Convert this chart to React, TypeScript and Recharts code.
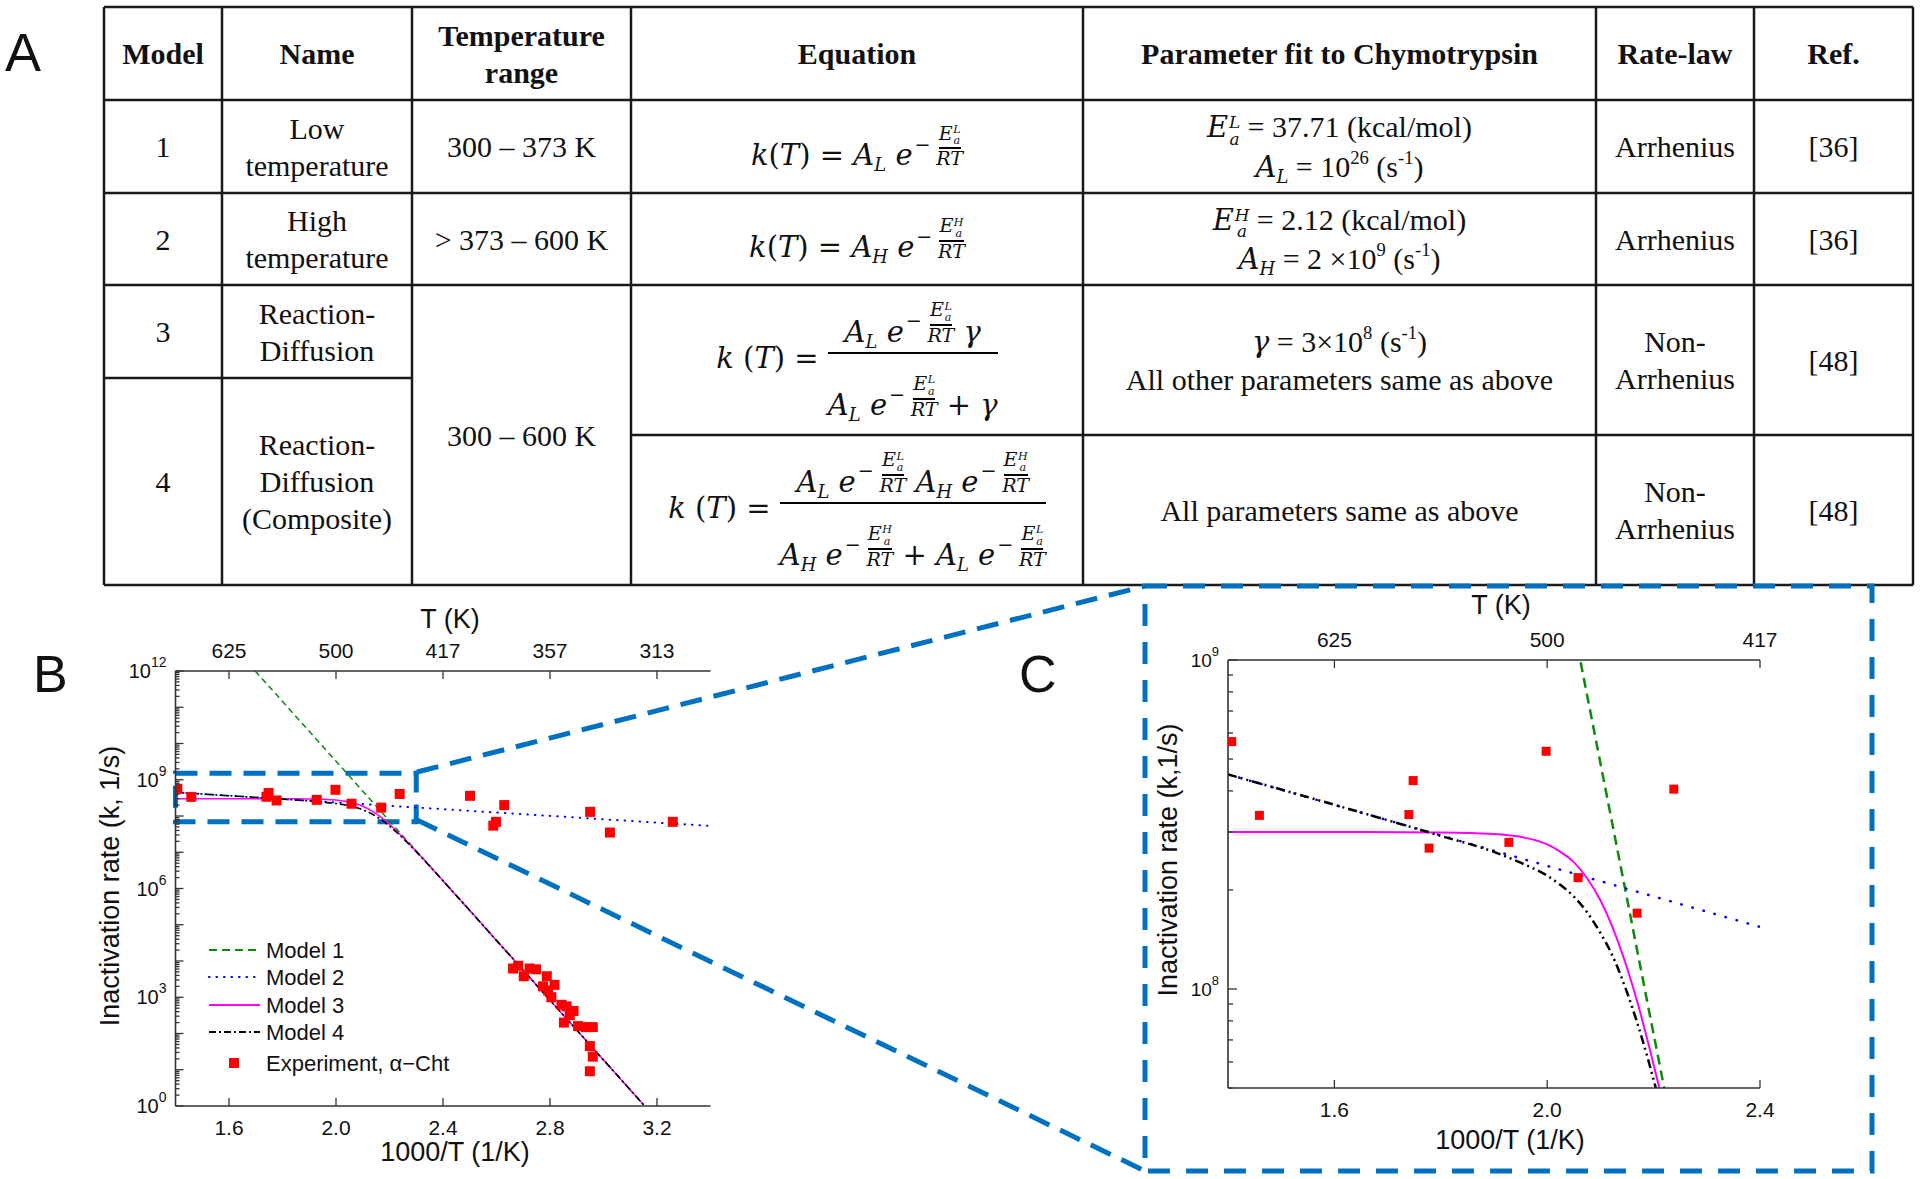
import React from 'react';
import { ComposedChart, Line, Scatter, XAxis, YAxis, ReferenceArea } from 'recharts';

// ---- chart data (x = 1000/T in 1/K, k in 1/s) ----
const model1X = [1.698, 3.15];
const model1K = [1e12, 1.08];
const model2X = [1.4, 3.4];
const model2K = [4.49e8, 5.31e7];
const curveX = [1.4, 1.6, 1.8, 1.9, 1.95, 2.0, 2.025, 2.05, 2.075, 2.1, 2.12, 2.15, 2.17, 2.19, 2.2, 2.21, 2.25, 2.3, 2.4, 2.6, 2.8, 3.0, 3.15];
const model3K = [3.0e8, 3.0e8, 2.99e8, 2.96e8, 2.9e8, 2.75e8, 2.61e8, 2.43e8, 2.17e8, 1.86e8, 1.58e8, 1.16e8, 9.06e7, 6.84e7, 5.89e7, 5.05e7, 2.59e7, 1.06e7, 1.64e6, 3.7e4, 832, 18.7, 1.08];
const model4K = [4.49e8, 3.63e8, 2.92e8, 2.61e8, 2.42e8, 2.21e8, 2.07e8, 1.91e8, 1.71e8, 1.48e8, 1.29e8, 9.77e7, 7.82e7, 6.08e7, 5.3e7, 4.59e7, 2.45e7, 1.03e7, 1.63e6, 3.7e4, 832, 18.7, 1.08];
const expX = [1.407, 1.459, 1.74, 1.748, 1.778, 1.928, 1.998, 2.058, 2.169, 2.238, 2.501, 2.588, 2.598, 2.629, 2.95, 3.024, 3.259,
  2.662, 2.681, 2.702, 2.724, 2.748, 2.774, 2.788, 2.793, 2.805, 2.817, 2.843, 2.852, 2.862, 2.874, 2.888, 2.905, 2.934, 2.949, 2.949, 2.96, 2.96];
const expK = [5.65e8, 3.37e8, 3.39e8, 4.3e8, 2.68e8, 2.79e8, 5.28e8, 2.18e8, 1.7e8, 4.05e8, 3.6e8, 5.4e7, 6.9e7, 2.0e8, 1.3e8, 3.5e7, 6.9e7,
  6.2e3, 7.4e3, 3.8e3, 6.2e3, 5.9e3, 2.0e3, 3.8e3, 1.55e3, 1.0e3, 2.2e3, 620, 200, 560, 320, 420, 160, 150, 45, 9.1, 150, 23];

// ---- axes ----
const bXTicks = [1.6, 2.0, 2.4, 2.8, 3.2];
const bTopLabels = ['625', '500', '417', '357', '313'];
const bYLabeled = [0, 3, 6, 9, 12];
const cXTicks = [1.6, 2.0, 2.4];
const cTopLabels = ['625', '500', '417'];
const cYLabeled = [8, 9];

const bYTicks: number[] = [];
for (let n = 0; n < 12; n++) for (let m = 1; m <= 9; m++) bYTicks.push(m * 10 ** n);
bYTicks.push(1e12);
const cYTicks = [5e7, 6e7, 7e7, 8e7, 9e7, 1e8, 2e8, 3e8, 4e8, 5e8, 6e8, 7e8, 8e8, 9e8, 1e9];

const zip = (xs: number[], ks: number[]) => xs.map((x, i) => ({ x, k: ks[i] }));
const m1Data = zip(model1X, model1K);
const m2Data = zip(model2X, model2K);
const m3Data = zip(curveX, model3K);
const m4Data = zip(curveX, model4K);
const expData = zip(expX, expK);

const SANS = "'Liberation Sans', Arial, sans-serif";
const SERIF = "'Liberation Serif', 'Times New Roman', serif";
const MATH = "'DejaVu Serif', serif";
const AXIS = '#333';
const BLUE = '#0070c0';
const GREEN = '#0a8a0a';

const isPow10 = (v: number) => Math.abs(Math.log10(v) - Math.round(Math.log10(v))) < 1e-6;

function yTick(side: 'l' | 'r', labeled: number[], major: number, minor: number, fs: number, sfs: number) {
  return (p: any) => {
    const v = p.payload.value;
    const pw = isPow10(v);
    const e = Math.round(Math.log10(v));
    const len = pw ? major : minor;
    const dir = side === 'l' ? 1 : -1;
    return (
      <g>
        <line x1={p.x} x2={p.x + dir * len} y1={p.y} y2={p.y} stroke={AXIS} strokeWidth={1.3} />
        {side === 'l' && pw && labeled.includes(e) && (
          <text x={p.x - 9} y={p.y + fs * 0.36} textAnchor="end" fontFamily={SANS} fill="#111">
            <tspan fontSize={fs}>10</tspan>
            <tspan fontSize={sfs} dy={-fs * 0.55}>{e}</tspan>
          </text>
        )}
      </g>
    );
  };
}

function xTick(side: 'b' | 't', labels: string[] | null, len: number) {
  return (p: any) => {
    const dir = side === 'b' ? -1 : 1;
    const txt = labels ? labels[p.index] : Number(p.payload.value).toFixed(1);
    const ty = side === 'b' ? p.y + 21 + 7.5 : p.y - 21 + 7.5;
    return (
      <g>
        <line x1={p.x} x2={p.x} y1={p.y} y2={p.y + dir * len} stroke={AXIS} strokeWidth={1.3} />
        <text x={p.x} y={ty} textAnchor="middle" fontFamily={SANS} fontSize={21} fill="#111">{txt}</text>
      </g>
    );
  };
}

const square = (s: number) => (p: any) => (
  <rect x={p.cx - s / 2} y={p.cy - s / 2} width={s} height={s} fill="#ff0000" />
);

type Sty = { w1: number; d1: string; w2: number; d2: string; w3: number; w4: number; d4: string; sq: number };

function Panel({ width, height, xDomain, yDomain, xTicks, topLabels, yTicks, yLabeled, yAxisW, sty, big, children }: any) {
  const axisLine = { stroke: AXIS, strokeWidth: 1.6 };
  return (
    <ComposedChart width={width} height={height} margin={{ top: 0, right: 40, bottom: 0, left: 0 }}>
      <XAxis xAxisId="b" dataKey="x" type="number" domain={xDomain} allowDataOverflow ticks={xTicks} interval={0}
        height={70} tickSize={0} tickMargin={0} tickLine={false} axisLine={axisLine} tick={xTick('b', null, 8)} />
      <XAxis xAxisId="t" orientation="top" dataKey="x" type="number" domain={xDomain} allowDataOverflow ticks={xTicks} interval={0}
        height={big ? 71 : 70} tickSize={0} tickMargin={0} tickLine={false} axisLine={axisLine} tick={xTick('t', topLabels, 8)} />
      <YAxis yAxisId="l" dataKey="k" type="number" scale="log" domain={yDomain} allowDataOverflow ticks={yTicks} interval={0}
        width={yAxisW} tickSize={0} tickMargin={0} tickLine={false} axisLine={axisLine}
        tick={yTick('l', yLabeled, big ? 8 : 9, big ? 4 : 5, big ? 20 : 19, big ? 14 : 13)} />
      <YAxis yAxisId="r" orientation="right" dataKey="k" type="number" scale="log" domain={yDomain} allowDataOverflow ticks={yTicks} interval={0}
        width={0} tickSize={0} tickMargin={0} tickLine={false} axisLine={axisLine}
        tick={yTick('r', yLabeled, big ? 8 : 9, big ? 4 : 5, 19, 12)} />
      <Line xAxisId="b" yAxisId="l" data={m1Data} dataKey="k" stroke={GREEN} strokeWidth={sty.w1} strokeDasharray={sty.d1}
        dot={false} activeDot={false} isAnimationActive={false} />
      <Line xAxisId="b" yAxisId="l" data={m2Data} dataKey="k" stroke="#0000ff" strokeWidth={sty.w2} strokeDasharray={sty.d2}
        strokeLinecap="round" dot={false} activeDot={false} isAnimationActive={false} />
      <Line xAxisId="b" yAxisId="l" data={m3Data} dataKey="k" type="monotone" stroke="#ff00ff" strokeWidth={sty.w3}
        dot={false} activeDot={false} isAnimationActive={false} />
      <Line xAxisId="b" yAxisId="l" data={m4Data} dataKey="k" type="monotone" stroke="#000" strokeWidth={sty.w4} strokeDasharray={sty.d4}
        dot={false} activeDot={false} isAnimationActive={false} />
      <Scatter xAxisId="b" yAxisId="l" data={expData} dataKey="k" shape={square(sty.sq)} isAnimationActive={false} />
      {children}
    </ComposedChart>
  );
}

const styB: Sty = { w1: 1.5, d1: '6 4', w2: 2, d2: '0.5 7', w3: 1.5, w4: 1.6, d4: '7 3 2 3', sq: 10 };
const styC: Sty = { w1: 2.5, d1: '10 6', w2: 2.5, d2: '0.5 11', w3: 2, w4: 2.5, d4: '9 4 2 4 2 4', sq: 9 };

// ---- table helpers ----
const V = ({ children }: any) => <span style={{ fontFamily: MATH, fontStyle: 'italic' }}>{children}</span>;
const Sub = ({ children }: any) => <span style={{ fontSize: '0.62em', verticalAlign: '-0.35em', lineHeight: 0 }}>{children}</span>;
const Sup = ({ children }: any) => <span style={{ fontSize: '0.62em', verticalAlign: '0.7em', lineHeight: 0 }}>{children}</span>;

function Ea({ s }: { s: string }) {
  return (
    <span style={{ display: 'inline-flex', alignItems: 'center', lineHeight: 1 }}>
      <V>E</V>
      <span style={{ display: 'inline-flex', flexDirection: 'column', fontSize: '0.58em', lineHeight: 1, marginLeft: '0.04em', marginTop: '0.4em' }}>
        <V>{s}</V>
        <V>a</V>
      </span>
    </span>
  );
}

function Expo({ s }: { s: string }) {
  return (
    <span style={{ display: 'inline-flex', alignItems: 'center', fontSize: '0.66em', lineHeight: 1, verticalAlign: '0.75em' }}>
      <span style={{ fontFamily: MATH, margin: '0 0.3em 0 0.1em' }}>−</span>
      <span style={{ display: 'inline-flex', flexDirection: 'column', alignItems: 'center' }}>
        <span style={{ borderBottom: '2px solid #000', paddingBottom: 1 }}><Ea s={s} /></span>
        <V>RT</V>
      </span>
    </span>
  );
}

const Ae = ({ a, s }: { a: string; s: string }) => (
  <span style={{ whiteSpace: 'nowrap' }}>
    <V>A</V><Sub><V>{a}</V></Sub> <V>e</V><Expo s={s} />
  </span>
);

function Frac({ num, den }: any) {
  return (
    <span style={{ display: 'inline-flex', flexDirection: 'column', alignItems: 'center', verticalAlign: 'middle' }}>
      <span style={{ padding: '0 6px 2px', borderBottom: '2.5px solid #000', alignSelf: 'stretch', textAlign: 'center' }}>{num}</span>
      <span style={{ paddingTop: 16 }}>{den}</span>
    </span>
  );
}

const EQ: React.CSSProperties = { fontFamily: MATH, fontSize: 29, lineHeight: 1.25, whiteSpace: 'nowrap' };

const eq1 = <span style={EQ}><V>k</V>(<V>T</V>) = <Ae a="L" s="L" /></span>;
const eq2 = <span style={EQ}><V>k</V>(<V>T</V>) =  <Ae a="H" s="H" /></span>;
const eq3 = (
  <span style={EQ}>
    <V>k</V> (<V>T</V>) = <Frac num={<><Ae a="L" s="L" /> <V>γ</V></>} den={<><Ae a="L" s="L" /> + <V>γ</V></>} />
  </span>
);
const eq4 = (
  <span style={EQ}>
    <V>k</V> (<V>T</V>) = <Frac num={<><Ae a="L" s="L" /> <Ae a="H" s="H" /></>} den={<><Ae a="H" s="H" /> + <Ae a="L" s="L" /></>} />
  </span>
);

const P = ({ children }: any) => <span style={{ fontSize: 29 }}>{children}</span>;
const par1 = (
  <div>
    <div><P><Ea s="L" /></P> = 37.71 (kcal/mol)</div>
    <div><P><V>A</V><Sub><V>L</V></Sub></P> =  10<Sup>26</Sup> (s<Sup>-1</Sup>)</div>
  </div>
);
const par2 = (
  <div>
    <div><P><Ea s="H" /></P> = 2.12 (kcal/mol)</div>
    <div><P><V>A</V><Sub><V>H</V></Sub></P> = 2 ×10<Sup>9</Sup> (s<Sup>-1</Sup>)</div>
  </div>
);
const par3 = (
  <div>
    <div><P><V>γ</V></P> = 3×10<Sup>8</Sup> (s<Sup>-1</Sup>)</div>
    <div>All other parameters same as above</div>
  </div>
);

const COLS = [104, 222, 412, 631, 1083, 1596, 1754, 1913];
const ROWS = [7, 100, 193, 285, 378, 435, 585];

const cells: { c: number; r0: number; r1: number; bold?: boolean; node: React.ReactNode }[] = [
  { c: 0, r0: 0, r1: 1, bold: true, node: 'Model' },
  { c: 1, r0: 0, r1: 1, bold: true, node: 'Name' },
  { c: 2, r0: 0, r1: 1, bold: true, node: <>Temperature<br />range</> },
  { c: 3, r0: 0, r1: 1, bold: true, node: 'Equation' },
  { c: 4, r0: 0, r1: 1, bold: true, node: 'Parameter fit to Chymotrypsin' },
  { c: 5, r0: 0, r1: 1, bold: true, node: 'Rate-law' },
  { c: 6, r0: 0, r1: 1, bold: true, node: 'Ref.' },
  { c: 0, r0: 1, r1: 2, node: '1' },
  { c: 1, r0: 1, r1: 2, node: <>Low<br />temperature</> },
  { c: 2, r0: 1, r1: 2, node: '300 – 373 K' },
  { c: 3, r0: 1, r1: 2, node: eq1 },
  { c: 4, r0: 1, r1: 2, node: par1 },
  { c: 5, r0: 1, r1: 2, node: 'Arrhenius' },
  { c: 6, r0: 1, r1: 2, node: '[36]' },
  { c: 0, r0: 2, r1: 3, node: '2' },
  { c: 1, r0: 2, r1: 3, node: <>High<br />temperature</> },
  { c: 2, r0: 2, r1: 3, node: '> 373 – 600 K' },
  { c: 3, r0: 2, r1: 3, node: eq2 },
  { c: 4, r0: 2, r1: 3, node: par2 },
  { c: 5, r0: 2, r1: 3, node: 'Arrhenius' },
  { c: 6, r0: 2, r1: 3, node: '[36]' },
  { c: 0, r0: 3, r1: 4, node: '3' },
  { c: 1, r0: 3, r1: 4, node: <>Reaction-<br />Diffusion</> },
  { c: 2, r0: 3, r1: 6, node: '300 – 600 K' },
  { c: 3, r0: 3, r1: 5, node: eq3 },
  { c: 4, r0: 3, r1: 5, node: par3 },
  { c: 5, r0: 3, r1: 5, node: <>Non-<br />Arrhenius</> },
  { c: 6, r0: 3, r1: 5, node: '[48]' },
  { c: 0, r0: 4, r1: 6, node: '4' },
  { c: 1, r0: 4, r1: 6, node: <>Reaction-<br />Diffusion<br />(Composite)</> },
  { c: 3, r0: 5, r1: 6, node: eq4 },
  { c: 4, r0: 5, r1: 6, node: 'All parameters same as above' },
  { c: 5, r0: 5, r1: 6, node: <>Non-<br />Arrhenius</> },
  { c: 6, r0: 5, r1: 6, node: '[48]' },
];

function Table() {
  const L = COLS[0];
  const R = COLS[COLS.length - 1];
  const ln = { stroke: '#1a1a1a', strokeWidth: 2.5 };
  return (
    <>
      <svg width={1920} height={600} style={{ position: 'absolute', left: 0, top: 0 }}>
        {[ROWS[0], ROWS[1], ROWS[2], ROWS[3], ROWS[6]].map((y) => <line key={y} x1={L} x2={R} y1={y} y2={y} {...ln} />)}
        <line x1={COLS[0]} x2={COLS[2]} y1={ROWS[4]} y2={ROWS[4]} {...ln} />
        <line x1={COLS[3]} x2={R} y1={ROWS[5]} y2={ROWS[5]} {...ln} />
        {COLS.map((x) => <line key={x} x1={x} x2={x} y1={ROWS[0]} y2={ROWS[6]} {...ln} />)}
      </svg>
      {cells.map((cl, i) => (
        <div key={i} style={{
          position: 'absolute', left: COLS[cl.c], top: ROWS[cl.r0], width: COLS[cl.c + 1] - COLS[cl.c], height: ROWS[cl.r1] - ROWS[cl.r0],
          display: 'flex', alignItems: 'center', justifyContent: 'center', textAlign: 'center',
          fontFamily: SERIF, fontSize: 30, lineHeight: '37px', fontWeight: cl.bold ? 700 : 400, color: '#111',
        }}>
          <div>{cl.node}</div>
        </div>
      ))}
    </>
  );
}

const legendItems = [
  { label: 'Model 1', color: GREEN, dash: '8 5', w: 1.8 },
  { label: 'Model 2', color: '#0000ff', dash: '0.5 7', w: 2.2 },
  { label: 'Model 3', color: '#ff00ff', dash: undefined, w: 1.8 },
  { label: 'Model 4', color: '#000', dash: '7 3 2 3', w: 1.8 },
];
const legendY = [950, 977, 1005, 1032, 1063];

function Overlay() {
  const t = { fontFamily: SANS, fill: '#111' } as any;
  return (
    <svg width={1920} height={1179} style={{ position: 'absolute', left: 0, top: 0, pointerEvents: 'none' }}>
      <text x={5} y={71} fontSize={54} {...t}>A</text>
      <text x={33} y={692} fontSize={52} {...t}>B</text>
      <text x={1019} y={692} fontSize={52} {...t}>C</text>

      <line x1={417} y1={772} x2={1145} y2={586} stroke={BLUE} strokeWidth={5} strokeDasharray="22 12" />
      <line x1={417} y1={820} x2={1145} y2={1171} stroke={BLUE} strokeWidth={5} strokeDasharray="22 12" />
      <rect x={1145} y={586} width={727} height={585} fill="none" stroke={BLUE} strokeWidth={5} strokeDasharray="22 16" />

      <text x={450} y={628} textAnchor="middle" fontSize={27} {...t}>T (K)</text>
      <text x={455} y={1161} textAnchor="middle" fontSize={27} {...t}>1000/T (1/K)</text>
      <text transform="translate(110,886) rotate(-90)" y={9} textAnchor="middle" fontSize={27} {...t}>Inactivation rate (k, 1/s)</text>

      <text x={1501} y={614} textAnchor="middle" fontSize={27} {...t}>T (K)</text>
      <text x={1510} y={1149} textAnchor="middle" fontSize={27} {...t}>1000/T (1/K)</text>
      <text transform="translate(1168,860) rotate(-90)" y={9} textAnchor="middle" fontSize={27} {...t}>Inactivation rate (k,1/s)</text>

      {legendItems.map((it, i) => (
        <g key={it.label}>
          <line x1={209} x2={260} y1={legendY[i]} y2={legendY[i]} stroke={it.color} strokeWidth={it.w} strokeDasharray={it.dash} strokeLinecap={i === 1 ? 'round' : 'butt'} />
          <text x={266} y={legendY[i] + 8} fontSize={22} {...t}>{it.label}</text>
        </g>
      ))}
      <rect x={229} y={legendY[4] - 5} width={10} height={10} fill="#ff0000" />
      <text x={266} y={legendY[4] + 8} fontSize={22} {...t}>Experiment, α−Cht</text>
    </svg>
  );
}

export default function App() {
  return (
    <div style={{ position: 'absolute', left: 0, top: 0, width: 1920, height: 1179, background: '#fff', overflow: 'hidden' }}>
      <Table />
      <div style={{ position: 'absolute', left: 60, top: 600 }}>
        <Panel width={690.5} height={576} xDomain={[1.4, 3.4]} yDomain={[1, 1e12]} xTicks={bXTicks} topLabels={bTopLabels}
          yTicks={bYTicks} yLabeled={bYLabeled} yAxisW={115.5} sty={styB} big>
          <ReferenceArea xAxisId="b" yAxisId="l" x1={1.4} x2={2.3} y1={6.9e7} y2={1.5e9} fill="none" fillOpacity={0}
            stroke={BLUE} strokeWidth={5} strokeDasharray="22 12" ifOverflow="visible" />
        </Panel>
      </div>
      <div style={{ position: 'absolute', left: 1140, top: 590 }}>
        <Panel width={660} height={568} xDomain={[1.4, 2.4]} yDomain={[5e7, 1e9]} xTicks={cXTicks} topLabels={cTopLabels}
          yTicks={cYTicks} yLabeled={cYLabeled} yAxisW={88} sty={styC} />
      </div>
      <Overlay />
    </div>
  );
}
